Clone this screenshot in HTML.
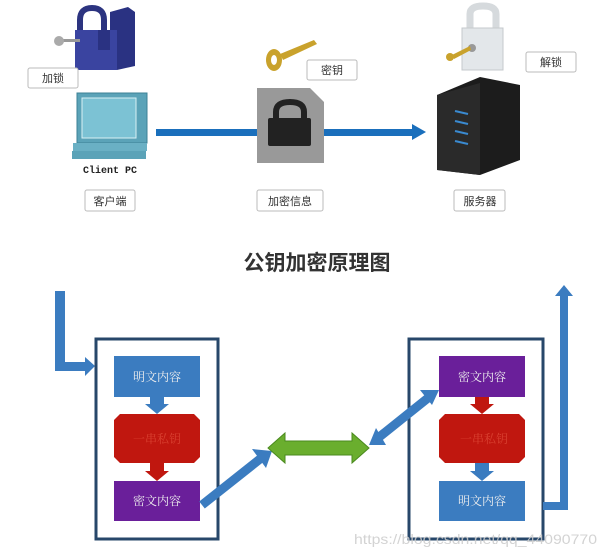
<!DOCTYPE html>
<html><head><meta charset="utf-8"><style>
html,body{margin:0;padding:0;background:#fff;}
svg{display:block}
</style></head><body>
<svg width="605" height="553" viewBox="0 0 605 553" xmlns="http://www.w3.org/2000/svg" font-family="Liberation Sans, Noto Sans CJK SC, sans-serif">
<rect width="605" height="553" fill="#fff"/>
<path d="M80 32 V20 Q80 8 92 8 Q104 8 104 20 V32" fill="none" stroke="#2c3480" stroke-width="6"/>
<polygon points="110,12 128,7 135,12 135,66 117,70 110,68" fill="#2a3282"/>
<rect x="75" y="30" width="42" height="40" fill="#3a44a0"/>
<rect x="98" y="30" width="12" height="20" fill="#2a3282"/>
<rect x="60" y="39" width="20" height="3" fill="#999"/>
<circle cx="59" cy="41" r="5" fill="#aaa"/>
<g fill="#fff" stroke="#bbb" stroke-width="1">
<rect x="28" y="68" width="50" height="20" rx="2"/>
<rect x="85" y="190" width="50" height="21" rx="2"/>
<rect x="307" y="60" width="50" height="20" rx="2"/>
<rect x="257" y="190" width="66" height="21" rx="2"/>
<rect x="526" y="52" width="50" height="20" rx="2"/>
<rect x="454" y="190" width="51" height="21" rx="2"/>
</g>
<g font-size="11" fill="#333" text-anchor="middle">
<text x="53" y="82">加锁</text>
<text x="110" y="205">客户端</text>
<text x="332" y="74">密钥</text>
<text x="290" y="205">加密信息</text>
<text x="551" y="66">解锁</text>
<text x="480" y="205">服务器</text>
</g>
<rect x="77" y="93" width="70" height="50" fill="#5ba3b8" stroke="#3d8296"/>
<rect x="82" y="98" width="54" height="40" fill="#7cc2d4" stroke="#d8f0f5"/>
<rect x="73" y="143" width="74" height="8" fill="#6ab0c4"/>
<rect x="72" y="151" width="74" height="8" fill="#5ba3b8"/>
<text x="110" y="173" style="font-family:'Liberation Mono',monospace" font-weight="bold" font-size="10" text-anchor="middle" fill="#222">Client PC</text>
<rect x="156" y="129" width="258" height="7" fill="#1a6fbc"/>
<polygon points="412,124 426,132 412,140" fill="#1a6fbc"/>
<ellipse cx="274" cy="60" rx="8" ry="11" fill="#c9a22c"/>
<ellipse cx="274" cy="60" rx="3" ry="5" fill="#fff"/>
<polygon points="280,54 314,40 317,44 283,60" fill="#c9a22c"/>
<polygon points="257,88 310,88 324,102 324,163 257,163" fill="#999"/>
<path d="M276 120 V112 Q276 102 290 102 Q304 102 304 112 V120" fill="none" stroke="#222" stroke-width="6"/>
<rect x="268" y="118" width="43" height="28" rx="2" fill="#222"/>
<path d="M470 32 V14 Q470 6 483 6 Q496 6 496 14 V32" fill="none" stroke="#d6dadd" stroke-width="7"/>
<rect x="462" y="28" width="41" height="42" fill="#e3e7ea" stroke="#c5c9cc"/>
<circle cx="472" cy="48" r="4" fill="#999"/>
<polygon points="452,55 470,46 471,50 454,59" fill="#c9a22c"/>
<circle cx="450" cy="57" r="4" fill="#c9a22c"/>
<polygon points="437,95 480,77 520,85 520,160 480,175 437,170" fill="#1c1c1c"/>
<polygon points="437,95 480,83 480,175 437,170" fill="#2a2a2a"/>
<g stroke="#3a8ad0" stroke-width="2"><line x1="455" y1="111" x2="468" y2="114"/><line x1="455" y1="121" x2="468" y2="124"/><line x1="455" y1="131" x2="468" y2="134"/><line x1="455" y1="141" x2="468" y2="144"/></g>
<text x="317" y="270" font-size="21" font-weight="bold" text-anchor="middle" fill="#333">公钥加密原理图</text>
<rect x="55" y="291" width="10" height="80" fill="#3b7cc0"/>
<rect x="55" y="362" width="32" height="9" fill="#3b7cc0"/>
<polygon points="85,357 95,366 85,376" fill="#3b7cc0"/>
<rect x="96" y="339" width="122" height="200" fill="none" stroke="#27476a" stroke-width="3"/>
<rect x="409" y="339" width="134" height="200" fill="none" stroke="#27476a" stroke-width="3"/>
<g style="font-family:'Liberation Serif','Noto Serif CJK SC',serif" font-size="12" text-anchor="middle" fill="#eee">
<rect x="114" y="356" width="86" height="41" fill="#3b7cc0"/><text x="157" y="381">明文内容</text>
<rect x="150" y="397" width="14" height="8" fill="#3b7cc0"/><polygon points="145,404 169,404 157,414" fill="#3b7cc0"/>
<polygon points="120,414 194,414 200,420 200,457 194,463 120,463 114,457 114,420" fill="#c0170f"/><text x="157" y="443" fill="#d84030">一串私钥</text>
<rect x="150" y="463" width="14" height="9" fill="#c0170f"/><polygon points="145,471 169,471 157,481" fill="#c0170f"/>
<rect x="114" y="481" width="86" height="40" fill="#6a1f9a"/><text x="157" y="505">密文内容</text>
<rect x="439" y="356" width="86" height="41" fill="#6a1f9a"/><text x="482" y="381">密文内容</text>
<rect x="475" y="397" width="14" height="8" fill="#c0170f"/><polygon points="470,404 494,404 482,414" fill="#c0170f"/>
<polygon points="445,414 519,414 525,420 525,457 519,463 445,463 439,457 439,420" fill="#c0170f"/><text x="484" y="443" fill="#d84030">一串私钥</text>
<rect x="475" y="463" width="14" height="9" fill="#3b7cc0"/><polygon points="470,471 494,471 482,481" fill="#3b7cc0"/>
<rect x="439" y="481" width="86" height="40" fill="#3b7cc0"/><text x="482" y="505">明文内容</text>
</g>
<line x1="202" y1="505" x2="260" y2="459" stroke="#3b7cc0" stroke-width="9"/>
<polygon points="252,449 272,451 266,468" fill="#3b7cc0"/>
<line x1="378" y1="438" x2="428" y2="398" stroke="#3b7cc0" stroke-width="9"/>
<polygon points="369,445 376,428 386,445" fill="#3b7cc0"/>
<polygon points="439,390 420,390 432,405" fill="#3b7cc0"/>
<polygon points="268,448 285,433 285,441 352,441 352,433 369,448 352,463 352,455 285,455 285,463" fill="#6aae2e" stroke="#4a8a1e"/>
<rect x="543" y="502" width="25" height="8" fill="#3b7cc0"/>
<rect x="560" y="294" width="8" height="216" fill="#3b7cc0"/>
<polygon points="555,296 564,285 573,296" fill="#3b7cc0"/>
<text x="354" y="544" font-size="14" fill="#ccc" opacity="0.85" textLength="243" lengthAdjust="spacingAndGlyphs">https://blog.csdn.net/qq_44090770</text>
</svg>
</body></html>
